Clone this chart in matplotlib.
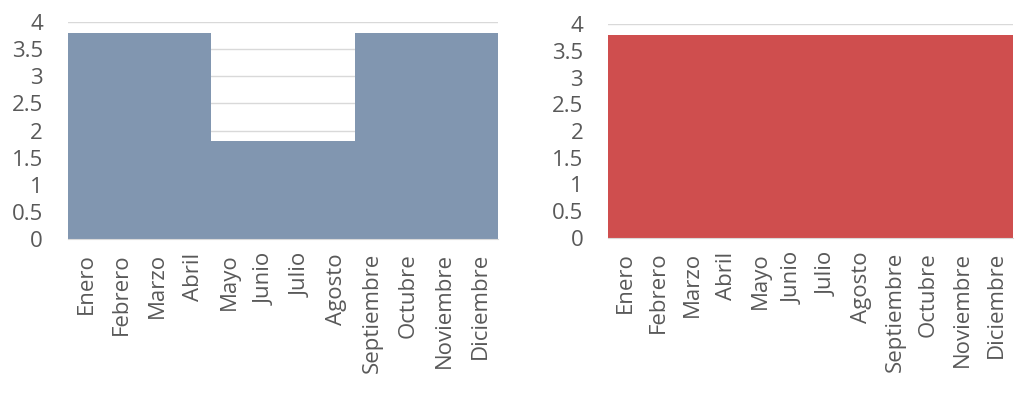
import matplotlib.pyplot as plt
import numpy as np

plt.rcParams['font.family'] = ['Open Sans', 'DejaVu Sans']

meses = ['Enero', 'Febrero', 'Marzo', 'Abril', 'Mayo', 'Junio', 'Julio',
         'Agosto', 'Septiembre', 'Octubre', 'Noviembre', 'Diciembre']
valores_izq = [3.8, 3.8, 3.8, 3.8, 1.8, 1.8, 1.8, 1.8, 3.8, 3.8, 3.8, 3.8]
valores_der = [3.8] * 12
yticks = [0, 0.5, 1, 1.5, 2, 2.5, 3, 3.5, 4]
ytick_labels = ['0', '0.5', '1', '1.5', '2', '2.5', '3', '3.5', '4']

fig = plt.figure(figsize=(10.17, 3.94), dpi=100)
ax1 = fig.add_axes([0.0669, 0.393, 0.4228, 0.551])
ax2 = fig.add_axes([0.598, 0.396, 0.398, 0.543])

for ax, vals, color in [(ax1, valores_izq, '#8196B0'), (ax2, valores_der, '#CF4E4E')]:
    x = np.arange(len(meses))
    ax.bar(x, vals, width=1.0, color=color, zorder=2)
    ax.set_xlim(-0.5, len(meses) - 0.5)
    ax.set_ylim(0, 4)
    ax.set_yticks(yticks)
    ax.set_yticklabels(ytick_labels)
    ax.set_xticks(x)
    ax.set_xticklabels(meses, rotation=90, ha='center', va='top')
    ax.grid(axis='y', color='#D9D9D9', linewidth=1, zorder=0)
    ax.set_axisbelow(True)
    for s in ['top', 'right', 'left']:
        ax.spines[s].set_visible(False)
    ax.spines['bottom'].set_color('#D9D9D9')
    ax.tick_params(axis='both', length=0, labelsize=16, colors='#595959')
    ax.tick_params(axis='y', pad=18)
    ax.tick_params(axis='x', pad=10)

fig.savefig('out.png', dpi=100)
